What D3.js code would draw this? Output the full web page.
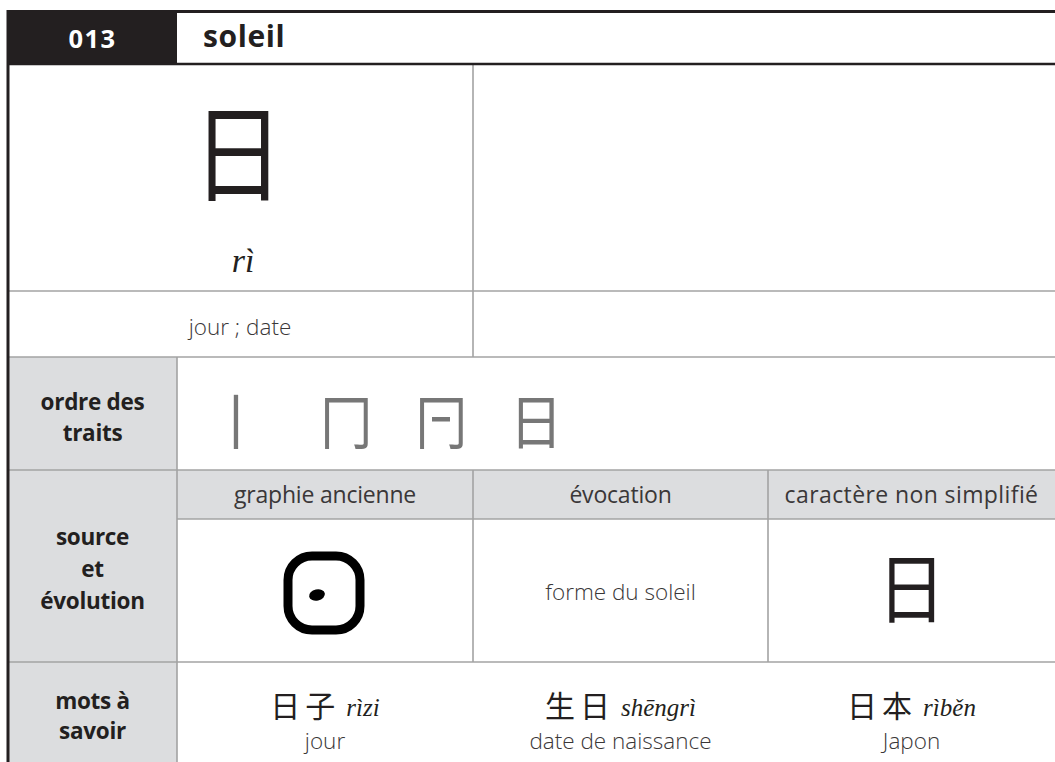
<!DOCTYPE html>
<html><head><meta charset="utf-8">
<script src="https://cdn.jsdelivr.net/npm/d3@7"></script>
<style>
html,body{margin:0;padding:0;background:#fff;}
svg{display:block;}
</style></head>
<body>
<svg id="card" width="1055" height="762"></svg>
<script>
// ---- content ----
const entryNumber = "013";
const entryTitle = "soleil";
const mainChar = "日";
const mainPinyin = "rì";
const mainMeaning = "jour ; date";
const rowLabels = [["ordre des", "traits"], ["source", "et", "évolution"], ["mots à", "savoir"]];
const strokeGlyphs = ["丨", "冂", "冂", "日"];
const strokeExtraBar = [false, false, true, false];
const evoHeaders = ["graphie ancienne", "évocation", "caractère non simplifié"];
const evoHeaderSpacing = [-0.2, -0.2, 0.4];
const evocationText = "forme du soleil";
const traditionalChar = "日";
const wordHanzi = ["日子", "生日", "日本"];
const wordPinyin = ["rìzi", "shēngrì", "rìběn"];
const wordFrench = ["jour", "date de naissance", "Japon"];

// ---- layout ----
const W = 1055, H = 762;
const colEdges = [8, 177, 473, 768, 1055];
const rowEdges = [10, 64, 291, 357, 470, 519, 662, 762];
const cx = i => (colEdges[i] + colEdges[i + 1]) / 2;

const INK = "#231f20", GRID = "#a3a3a3", SHADE = "#dcdddf", SOFT = "#3a3738";
const SANS = "'Open Sans', 'Noto Sans', sans-serif";
const SERIF = "'Liberation Serif', 'DejaVu Serif', serif";
const CJK = "'Noto Sans CJK SC', sans-serif";

const svg = d3.select("#card");

// shaded label cells
const shaded = [
  {x0: colEdges[0], x1: colEdges[1], y0: rowEdges[3], y1: rowEdges[4]},
  {x0: colEdges[0], x1: colEdges[1], y0: rowEdges[4], y1: rowEdges[6]},
  {x0: colEdges[1], x1: colEdges[4], y0: rowEdges[4], y1: rowEdges[5]},
  {x0: colEdges[0], x1: colEdges[1], y0: rowEdges[6], y1: rowEdges[7]}
];
svg.selectAll("rect.shade").data(shaded).join("rect").attr("class", "shade")
  .attr("x", d => d.x0).attr("y", d => d.y0).attr("width", d => d.x1 - d.x0).attr("height", d => d.y1 - d.y0)
  .attr("fill", SHADE);

// header black box
svg.append("rect").attr("x", colEdges[0]).attr("y", rowEdges[0]).attr("width", colEdges[1] - colEdges[0])
  .attr("height", rowEdges[1] - rowEdges[0]).attr("fill", INK);

// grid lines (gray)
const gridLines = [
  [colEdges[0], rowEdges[2], colEdges[4], rowEdges[2]],
  [colEdges[0], rowEdges[3], colEdges[4], rowEdges[3]],
  [colEdges[0], rowEdges[4], colEdges[4], rowEdges[4]],
  [colEdges[1], rowEdges[5], colEdges[4], rowEdges[5]],
  [colEdges[0], rowEdges[6], colEdges[4], rowEdges[6]],
  [colEdges[2], rowEdges[1], colEdges[2], rowEdges[3]],
  [colEdges[1], rowEdges[3], colEdges[1], rowEdges[7]],
  [colEdges[2], rowEdges[4], colEdges[2], rowEdges[6]],
  [colEdges[3], rowEdges[4], colEdges[3], rowEdges[6]]
];
svg.selectAll("line.grid").data(gridLines).join("line").attr("class", "grid")
  .attr("x1", d => d[0]).attr("y1", d => d[1]).attr("x2", d => d[2]).attr("y2", d => d[3])
  .attr("stroke", GRID).attr("stroke-width", 1.6);

// heavy lines
const heavy = [
  [colEdges[1], rowEdges[0] + 1.5, colEdges[4], rowEdges[0] + 1.5, 3],
  [colEdges[0], rowEdges[1], colEdges[4], rowEdges[1], 2.5],
  [colEdges[0], rowEdges[0], colEdges[0], H, 3]
];
svg.selectAll("line.heavy").data(heavy).join("line").attr("class", "heavy")
  .attr("x1", d => d[0]).attr("y1", d => d[1]).attr("x2", d => d[2]).attr("y2", d => d[3])
  .attr("stroke", INK).attr("stroke-width", d => d[4]);

// header texts
svg.append("text").attr("x", cx(0)).attr("y", 47.5).attr("text-anchor", "middle")
  .attr("font-family", SANS).attr("font-weight", 700).attr("font-size", 25.5).attr("letter-spacing", 1.5)
  .attr("fill", "#fff").text(entryNumber);
svg.append("text").attr("x", 203).attr("y", 47)
  .attr("font-family", SANS).attr("font-weight", 700).attr("font-size", 30).attr("letter-spacing", 0.6)
  .attr("fill", INK).text(entryTitle);

// main character block
svg.append("text").attr("transform", "translate(238,193) scale(0.86,1)").attr("text-anchor", "middle")
  .attr("font-family", CJK).attr("font-size", 106).attr("fill", INK).text(mainChar);
svg.append("text").attr("x", 243).attr("y", 272).attr("text-anchor", "middle")
  .attr("font-family", SERIF).attr("font-style", "italic").attr("font-size", 34).attr("fill", INK).text(mainPinyin);
svg.append("text").attr("x", 240).attr("y", 335).attr("text-anchor", "middle")
  .attr("font-family", SANS).attr("font-weight", 300).attr("font-size", 22.5).attr("fill", SOFT).text(mainMeaning);

// row labels
const labelRows = [
  {lines: rowLabels[0], y0: 410, step: 31},
  {lines: rowLabels[1], y0: 545, step: 32},
  {lines: rowLabels[2], y0: 709, step: 30}
];
labelRows.forEach(r => {
  svg.append("g").selectAll("text").data(r.lines).join("text")
    .attr("x", cx(0)).attr("y", (d, i) => r.y0 + i * r.step).attr("text-anchor", "middle")
    .attr("font-family", SANS).attr("font-weight", 700).attr("font-size", 22.5).attr("letter-spacing", -0.3)
    .attr("fill", INK).text(d => d);
});

// stroke order
const strokeXs = [236, 346, 441, 536];
const sg = svg.append("g").selectAll("g").data(strokeGlyphs).join("g")
  .attr("transform", (d, i) => `translate(${strokeXs[i]},444)`);
sg.append("text").attr("text-anchor", "middle").attr("transform", "scale(0.9,1)")
  .attr("font-family", CJK).attr("font-size", 59).attr("fill", "#777").text(d => d);
sg.filter((d, i) => strokeExtraBar[i]).append("rect")
  .attr("x", -9).attr("y", -27).attr("width", 18).attr("height", 4.5).attr("fill", "#777");

// evolution sub-headers
svg.append("g").selectAll("text").data(evoHeaders).join("text")
  .attr("x", (d, i) => cx(i + 1)).attr("y", 503).attr("text-anchor", "middle")
  .attr("font-family", SANS).attr("font-size", 23).attr("letter-spacing", (d, i) => evoHeaderSpacing[i])
  .attr("fill", SOFT).text(d => d);

// ancient glyph: thick rounded square with dot
const ag = svg.append("g").attr("transform", `translate(${cx(1) - 1},592)`);
ag.append("rect").attr("x", -36).attr("y", -36).attr("width", 72).attr("height", 74).attr("rx", 24).attr("ry", 24)
  .attr("fill", "none").attr("stroke", "#000").attr("stroke-width", 9);
ag.append("ellipse").attr("cx", -7).attr("cy", 3).attr("rx", 8).attr("ry", 5.5).attr("transform", "rotate(-12,-7,3)").attr("fill", "#000");

svg.append("text").attr("x", cx(2)).attr("y", 600).attr("text-anchor", "middle")
  .attr("font-family", SANS).attr("font-weight", 300).attr("font-size", 22.5).attr("fill", SOFT).text(evocationText);
svg.append("text").attr("transform", `translate(${cx(3)},617) scale(0.9,1)`).attr("text-anchor", "middle")
  .attr("font-family", CJK).attr("font-size", 76).attr("fill", INK).text(traditionalChar);

// words to know
wordHanzi.forEach((hz, i) => {
  const g = svg.append("g");
  const t1 = g.append("text").attr("y", 717).attr("font-family", CJK).attr("font-size", 30)
    .attr("letter-spacing", 5).attr("fill", INK).text(hz);
  const t2 = g.append("text").attr("y", 716).attr("font-family", SERIF).attr("font-style", "italic")
    .attr("font-size", 25).attr("fill", INK).text(wordPinyin[i]);
  const w1 = t1.node().getComputedTextLength(), w2 = t2.node().getComputedTextLength();
  const gap = 6, total = w1 + gap + w2;
  const start = cx(i + 1) - total / 2;
  t1.attr("x", start);
  t2.attr("x", start + w1 + gap);
  g.append("text").attr("x", cx(i + 1)).attr("y", 749).attr("text-anchor", "middle")
    .attr("font-family", SANS).attr("font-weight", 300).attr("font-size", 22.5).attr("fill", SOFT).text(wordFrench[i]);
});
</script>
</body></html>
